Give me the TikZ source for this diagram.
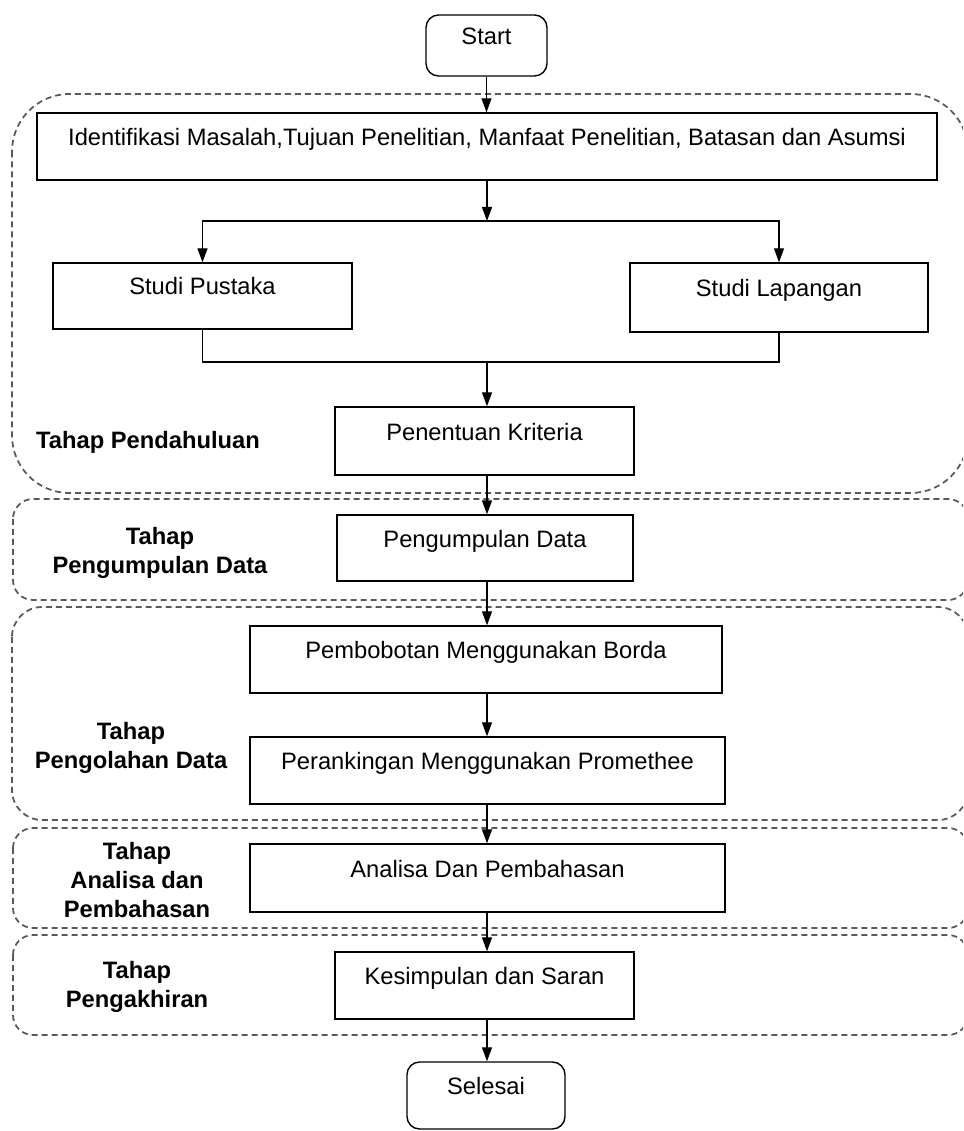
\documentclass[tikz,border=0pt]{standalone}
\usepackage{fontspec}
\setmainfont{Liberation Sans}
\usetikzlibrary{arrows.meta}

\tikzset{
  box/.style={draw, line width=0.8pt, inner sep=0pt, font=\fontsize{13.5}{16}\selectfont,
    text height=3.5mm, text depth=3.9mm},
  term/.style={box, rounded corners=0.25cm},
  phase/.style={draw=black!65, line width=1pt, dash pattern=on 0.12cm off 0.08cm},
  tahap/.style={align=center, font=\fontsize{13.5}{16.5}\bfseries\selectfont},
  arr/.style={line width=0.7pt, -{Triangle[length=0.28cm,width=0.2cm]}},
}

\begin{document}
\begin{tikzpicture}[x=0.02cm, y=-0.02cm]
    \clip (0,0) rectangle (963,1131);
    % tahapan
    \draw[phase, rounded corners=1.15cm] (12,94) rectangle (968,493);
    \draw[phase, rounded corners=0.4cm] (13,499) rectangle (968,600);
    \draw[phase, rounded corners=0.6cm] (12,607) rectangle (968,820);
    \draw[phase, rounded corners=0.4cm] (13,828) rectangle (968,928);
    \draw[phase, rounded corners=0.4cm] (13,935) rectangle (968,1035);
    \node[tahap] (pendahuluan) at (148,442) {Tahap Pendahuluan};
    \node[tahap] (pengumpulan) at (160,553) {Tahap\\Pengumpulan Data};
    \node[tahap] (pengolahan) at (131,748) {Tahap\\Pengolahan Data};
    \node[tahap] (analisis) at (137,880) {Tahap\\Analisa dan\\Pembahasan};
    \node[tahap] (pengakhiran) at (137,987) {Tahap\\Pengakhiran};
    % alur
    \node[term, minimum width=2.42cm, minimum height=1.22cm] (start) at (486.5,45.5) {Start};
    \node[box, minimum width=18cm, minimum height=1.34cm] (identifikasi) at (487,146.5)
        {Identifikasi Masalah,Tujuan Penelitian, Manfaat Penelitian, Batasan dan Asumsi};
    \node[box, minimum width=5.98cm, minimum height=1.32cm] (pustaka) at (202.5,296) {Studi Pustaka};
    \node[box, minimum width=5.96cm, minimum height=1.38cm] (lapangan) at (779,297.5) {Studi Lapangan};
    \node[box, minimum width=5.98cm, minimum height=1.36cm] (kriteria) at (484.5,441) {Penentuan Kriteria};
    \node[box, minimum width=5.92cm, minimum height=1.32cm] (data) at (485,548) {Pengumpulan Data};
    \node[box, minimum width=9.44cm, minimum height=1.34cm] (borda) at (486,659.5) {Pembobotan Menggunakan Borda};
    \node[box, minimum width=9.5cm, minimum height=1.34cm] (promethee) at (487.5,770.5) {Perankingan Menggunakan Promethee};
    \node[box, minimum width=9.5cm, minimum height=1.36cm] (pembahasan) at (487.5,878) {Analisa Dan Pembahasan};
    \node[box, minimum width=5.98cm, minimum height=1.34cm] (saran) at (484.5,985.5) {Kesimpulan dan Saran};
    \node[term, minimum width=3.16cm, minimum height=1.34cm] (selesai) at (486,1095.5) {Selesai};
    \coordinate (bagi) at (487,221);
    \coordinate (gabung) at (487,362);
    % panah
    \draw[arr] (start.south) -- (start.south |- identifikasi.north);
    \draw[arr] (identifikasi.south) -- (bagi);
    \draw[arr] (bagi) -| (pustaka.north);
    \draw[arr] (bagi) -| (lapangan.north);
    \draw[line width=0.7pt] (pustaka.south) |- (gabung) -| (lapangan.south);
    \draw[arr] (gabung) -- (gabung |- kriteria.north);
    \draw[arr] (gabung |- kriteria.south) -- (gabung |- data.north);
    \draw[arr] (gabung |- data.south) -- (gabung |- borda.north);
    \draw[arr] (gabung |- borda.south) -- (gabung |- promethee.north);
    \draw[arr] (gabung |- promethee.south) -- (gabung |- pembahasan.north);
    \draw[arr] (gabung |- pembahasan.south) -- (gabung |- saran.north);
    \draw[arr] (gabung |- saran.south) -- (gabung |- selesai.north);
\end{tikzpicture}
\end{document}
